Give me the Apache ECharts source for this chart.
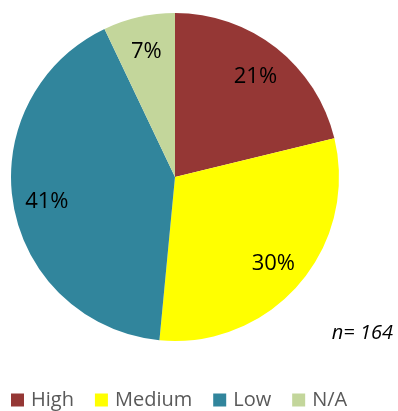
<!DOCTYPE html>
<html>
<head>
<meta charset="utf-8">
<script src="https://cdn.jsdelivr.net/npm/echarts@6/dist/echarts.min.js"></script>
<style>
  html, body { margin: 0; padding: 0; background: #fff; }
  #chart { width: 398px; height: 411px; }
</style>
</head>
<body>
<div id="chart"></div>
<script>
// Risk level shares (percent), sample of 164
const categories = ['High', 'Medium', 'Low', 'N/A'];
const shares = [21, 30, 41, 7];
const sliceColors = ['#953735', '#FFFF00', '#31859C', '#C3D69B'];
const sampleNote = 'n= 164';

const FONT = '"Open Sans", sans-serif';
const CENTER = [175, 177];
const R = 164;

const pieData = categories.map((name, i) => ({
  name,
  value: shares[i],
  itemStyle: { color: sliceColors[i] }
}));

const chart = echarts.init(document.getElementById('chart'), null, { renderer: 'canvas' });
chart.setOption({
  animation: false,
  backgroundColor: '#ffffff',
  legend: {
    data: categories,
    left: 6,
    top: 385,
    icon: 'rect',
    itemWidth: 13,
    itemHeight: 13,
    itemGap: 21,
    textStyle: { fontFamily: FONT, fontSize: 20, color: '#595959', padding: [0, 0, 0, 2] }
  },
  graphic: [{
    type: 'text',
    right: 5,
    top: 323,
    style: { text: sampleNote, fontFamily: FONT, fontSize: 20, fontStyle: 'italic', fill: '#000' }
  }],
  series: [
    {
      type: 'pie',
      center: CENTER,
      radius: [0, R],
      startAngle: 90,
      clockwise: true,
      label: { show: false },
      labelLine: { show: false },
      emphasis: { disabled: true },
      itemStyle: { borderWidth: 0 },
      data: pieData
    },
    {
      // transparent ring that carries the percentage labels further out
      type: 'pie',
      center: CENTER,
      radius: [R * 0.55, R],
      startAngle: 90,
      clockwise: true,
      silent: true,
      legendHoverLink: false,
      emphasis: { disabled: true },
      itemStyle: { color: 'transparent', borderWidth: 0 },
      label: {
        show: true,
        position: 'inside',
        formatter: '{c}%',
        fontFamily: FONT,
        fontSize: 22,
        color: '#000'
      },
      labelLayout: { dy: 2 },
      labelLine: { show: false },
      data: categories.map((name, i) => ({ name: name + ' ', value: shares[i] }))
    }
  ]
});
</script>
</body>
</html>
